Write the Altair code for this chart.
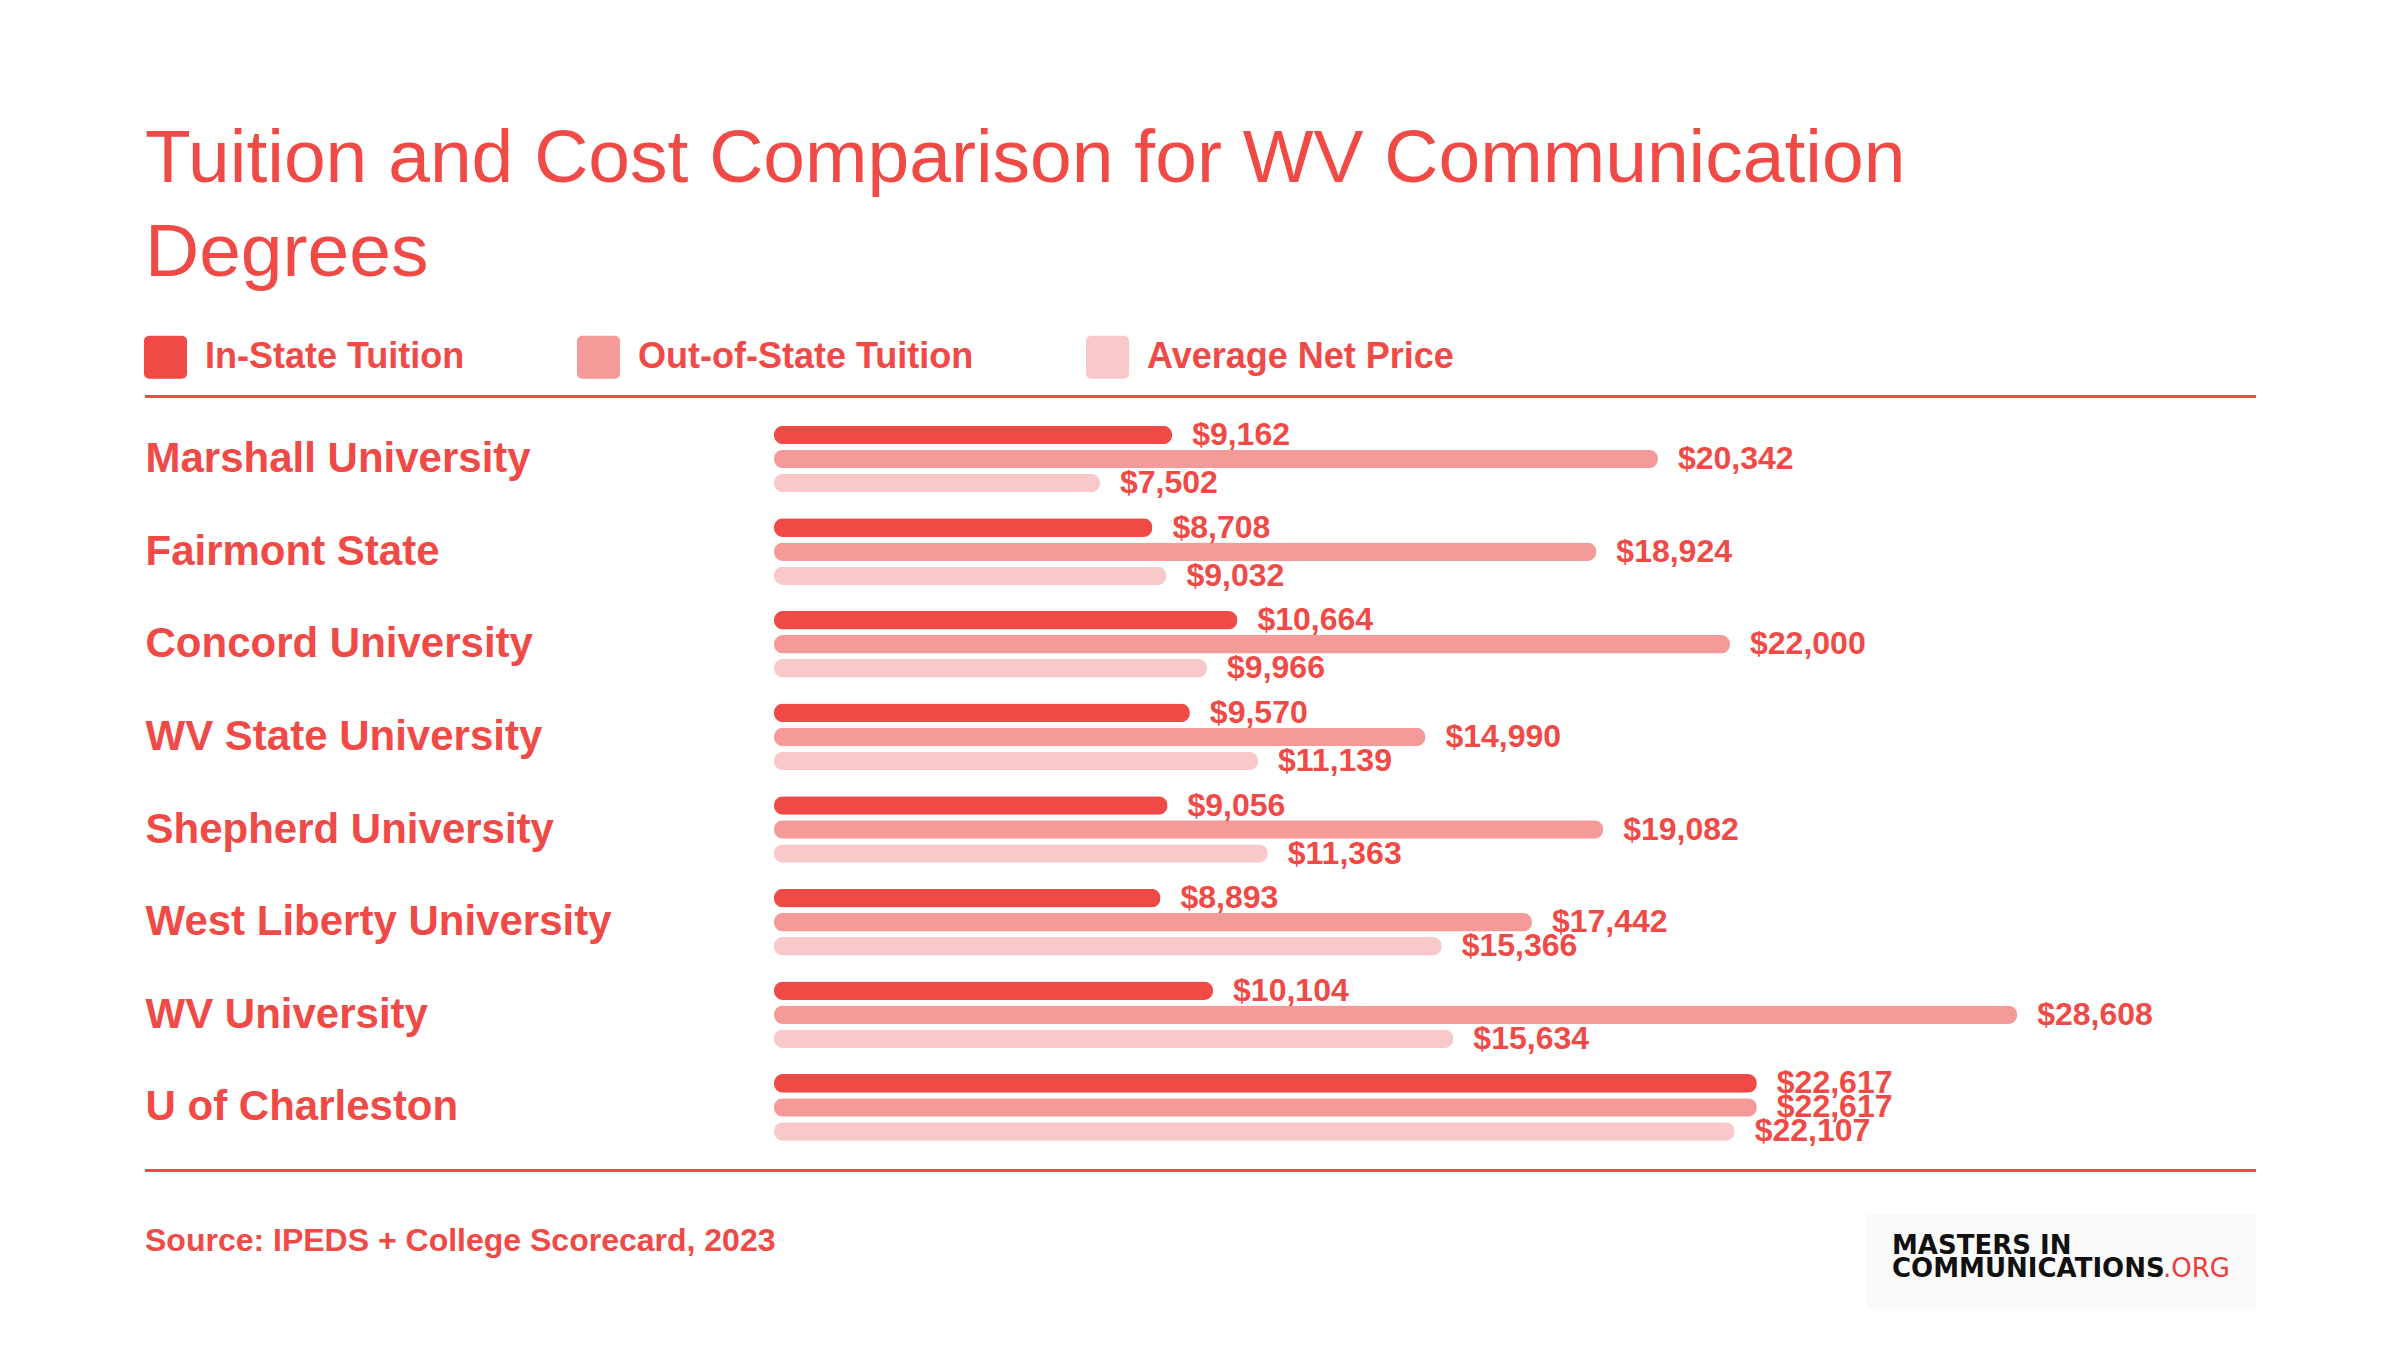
import altair as alt
import pandas as pd

# ---------------- data ----------------
SCHOOLS = [
    "Marshall University",
    "Fairmont State",
    "Concord University",
    "WV State University",
    "Shepherd University",
    "West Liberty University",
    "WV University",
    "U of Charleston",
]
SERIES = ["In-State Tuition", "Out-of-State Tuition", "Average Net Price"]
IN_STATE = [9162, 8708, 10664, 9570, 9056, 8893, 10104, 22617]
OUT_STATE = [20342, 18924, 22000, 14990, 19082, 17442, 28608, 22617]
NET_PRICE = [7502, 9032, 9966, 11139, 11363, 15366, 15634, 22107]

TITLE_LINES = ["Tuition and Cost Comparison for WV Communication", "Degrees"]
SOURCE = "Source: IPEDS + College Scorecard, 2023"
LOGO_LINE1 = "MASTERS IN"
LOGO_LINE2 = "COMMUNICATIONS"
LOGO_SUFFIX = ".ORG"

# ---------------- style ----------------
RED = "#F04A47"
COLORS = ["#F04A47", "#F49A98", "#F9C8C8"]
FONT = "Liberation Sans"

rows = []
for i, s in enumerate(SCHOOLS):
    for name, vals in zip(SERIES, [IN_STATE, OUT_STATE, NET_PRICE]):
        rows.append({"school": s, "series": name, "value": vals[i],
                     "label": "${:,}".format(vals[i])})
df = pd.DataFrame(rows)

W, H = 1434, 741
LEFT = 774
TOP = 412.7

x_enc = alt.X("value:Q", scale=alt.Scale(domain=[0, 33000], nice=False, zero=True), axis=None)
y_enc = alt.Y(
    "school:N",
    sort=SCHOOLS,
    scale=alt.Scale(paddingInner=0, paddingOuter=0),
    axis=alt.Axis(
        title=None, labelAlign="left", labelBaseline="middle", labelPadding=629,
        ticks=False, tickSize=0, domain=False, grid=False,
        labelFontSize=42, labelFontWeight="bold", labelColor=RED, labelFont=FONT,
        labelLimit=900,
    ),
)
yoff_enc = alt.YOffset("series:N", sort=SERIES,
                       scale=alt.Scale(domain=SERIES, paddingInner=0.229, paddingOuter=0.5435))

rounded_square = ("M -0.76,-1 L 0.76,-1 A 0.24,0.24 0 0 1 1,-0.76 L 1,0.76 "
                  "A 0.24,0.24 0 0 1 0.76,1 L -0.76,1 A 0.24,0.24 0 0 1 -1,0.76 "
                  "L -1,-0.76 A 0.24,0.24 0 0 1 -0.76,-1 Z")

bars = alt.Chart(df).mark_bar(cornerRadius=9).encode(
    x=x_enc,
    y=y_enc,
    yOffset=yoff_enc,
    color=alt.Color(
        "series:N",
        sort=SERIES,
        scale=alt.Scale(domain=SERIES, range=COLORS),
        legend=alt.Legend(
            title=None, orient="none", direction="horizontal",
            legendX=-630, legendY=-77, padding=0,
            symbolType=rounded_square, symbolSize=1849, symbolStrokeWidth=0,
            symbolOpacity=1,
            labelFont=FONT, labelFontSize=36, labelFontWeight="bold",
            labelColor=RED, labelOffset=18, labelLimit=600,
            columnPadding=112,
        ),
    ),
)

labels = alt.Chart(df).mark_text(
    align="left", baseline="middle", dx=20, font=FONT, fontSize=32,
    fontWeight="bold", color=RED,
).encode(
    x=x_enc,
    y=alt.Y("school:N", sort=SCHOOLS),
    yOffset=alt.YOffset("series:N", sort=SERIES),
    text="label:N",
)

rule_top = alt.Chart(pd.DataFrame({"k": [0]})).mark_rule(color=RED, strokeWidth=3).encode(
    x=alt.value(-629), x2=alt.value(2256 - LEFT), y=alt.value(396.5 - TOP))
rule_bot = alt.Chart(pd.DataFrame({"k": [0]})).mark_rule(color=RED, strokeWidth=3).encode(
    x=alt.value(-629), x2=alt.value(2256 - LEFT), y=alt.value(1170.5 - TOP))

source = alt.Chart(pd.DataFrame({"t": [SOURCE]})).mark_text(
    align="left", baseline="alphabetic", font=FONT, fontSize=32, fontWeight="bold", color=RED
).encode(x=alt.value(145 - LEFT), y=alt.value(1251 - TOP), text="t:N")

logo_box = alt.Chart(pd.DataFrame({"k": [0]})).mark_rect(color="#FAFAFA").encode(
    x=alt.value(1867 - LEFT), x2=alt.value(2256 - LEFT),
    y=alt.value(1214 - TOP), y2=alt.value(1309 - TOP))
logo1 = alt.Chart(pd.DataFrame({"t": [LOGO_LINE1]})).mark_text(
    align="left", baseline="alphabetic", font="DejaVu Sans", fontSize=26, fontWeight="bold",
    color="#111111").encode(x=alt.value(1892 - LEFT), y=alt.value(1254 - TOP), text="t:N")
logo2 = alt.Chart(pd.DataFrame({"t": [LOGO_LINE2]})).mark_text(
    align="left", baseline="alphabetic", font="DejaVu Sans", fontSize=26, fontWeight="bold",
    color="#111111").encode(x=alt.value(1892 - LEFT), y=alt.value(1277 - TOP), text="t:N")
logo3 = alt.Chart(pd.DataFrame({"t": [LOGO_SUFFIX]})).mark_text(
    align="left", baseline="alphabetic", font="DejaVu Sans", fontSize=26, fontWeight="normal",
    color="#F03A3A").encode(x=alt.value(2163 - LEFT), y=alt.value(1277 - TOP), text="t:N")

chart = alt.layer(bars, labels, rule_top, rule_bot, source, logo_box, logo1, logo2, logo3).properties(
    width=W, height=H,
    title=alt.TitleParams(
        text=TITLE_LINES, anchor="start", frame="group", dx=-629, offset=44,
        fontSize=75, font=FONT, fontWeight="normal", color=RED, lineHeight=94,
    ),
    autosize=alt.AutoSizeParams(type="none"),
    padding={"left": LEFT, "top": TOP, "right": 2400 - LEFT - W, "bottom": 1350 - TOP - H},
    background="white",
).configure_view(stroke="transparent")

chart.save("out.html", embed_options={"renderer": "svg", "actions": False})
